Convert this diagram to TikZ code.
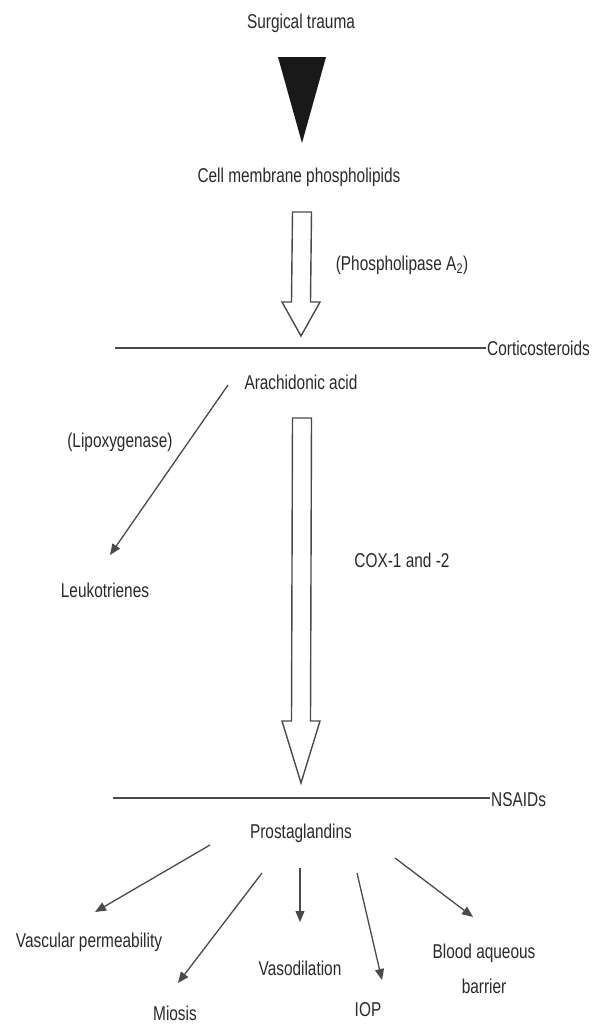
\documentclass[tikz,border=0pt]{standalone}
\usepackage{fontspec}
\setmainfont{Liberation Sans}[FakeStretch=0.77]
\usepackage{xcolor}
\usepackage{tikz}
\usetikzlibrary{arrows.meta, calc}
\definecolor{ink}{HTML}{2A2A2A}
\definecolor{rule}{HTML}{4A4A4A}
\tikzstyle{txt} = [text=ink, inner sep=1pt, font=\fontsize{20}{23}\selectfont]
\tikzstyle{bar} = [draw=rule, line width=1.6pt]
\tikzstyle{arrow} = [draw=rule, line width=1.3pt, -{Triangle[length=11pt, width=9pt]}]
\tikzstyle{hollow} = [draw=rule, line width=1.4pt, fill=white, line join=miter]
% block arrow: #1 top of shaft, #2 tip, #3 head length
\newcommand{\hollowarrow}[3]{%
  \draw[hollow] ($(#1)+(-9.5,0)$) -- ($(#2)+(-9.5,-#3)$) -- ($(#2)+(-19,-#3)$) -- (#2)
    -- ($(#2)+(19,-#3)$) -- ($(#2)+(9.5,-#3)$) -- ($(#1)+(9.5,0)$) -- cycle;}

\begin{document}
\begin{tikzpicture}[x=1pt, y=-1pt]
\useasboundingbox[fill=white] (0,0) rectangle (603,1029);

% top part
\node (trauma) [txt] at (301,23) {Surgical trauma};
\fill[black!90] (278,57) -- (326,57) -- (302,143) -- cycle;
\node (cell) [txt] at (299,177) {Cell membrane phospholipids};
\coordinate (shaft1) at (302,212);
\coordinate (tip1) at (301,336);
\hollowarrow{shaft1}{tip1}{34}
\node (phos) [txt] at (402,265) {(Phospholipase A\textsubscript{2})};

% corticosteroids
\coordinate (cortL) at (115,348);
\node (cort) [txt, anchor=west] at (486,348) {Corticosteroids};
\draw[bar] (cortL) -- (cort.west);

\node (arach) [txt] at (301,382) {Arachidonic acid};
\node (lipox) [txt] at (120,442) {(Lipoxygenase)};
\node (leuko) [txt] at (105,590) {Leukotrienes};
\coordinate (lipoxS) at (228,385);
\coordinate (lipoxE) at (110,555);
\draw[arrow] (lipoxS) -- (lipoxE);

\coordinate (shaft2) at (302,418);
\coordinate (tip2) at (301,783);
\hollowarrow{shaft2}{tip2}{62}
\node (cox) [txt] at (402,560) {COX-1 and -2};

% NSAIDs
\coordinate (nsaidL) at (113,798);
\node (nsaid) [txt, anchor=west] at (490,800) {NSAIDs};
\draw[bar] (nsaidL) -- (nsaid.west |- nsaidL);

\node (prost) [txt] at (301,833) {Prostaglandins};

% effects
\node (vasc) [txt] at (89,942) {Vascular permeability};
\node (miosis) [txt] at (175,1013) {Miosis};
\node (vasod) [txt] at (300,968) {Vasodilation};
\node (iop) [txt] at (368,1010) {IOP};
\node (blood) [txt, align=center, font=\fontsize{20}{35}\selectfont] at (484,969) {Blood aqueous\\barrier};

\coordinate (p1s) at (210,845); \coordinate (p1e) at (95,912);
\coordinate (p2s) at (262,873); \coordinate (p2e) at (178,983);
\coordinate (p3s) at (300,868); \coordinate (p3e) at (300,922);
\coordinate (p4s) at (357,873); \coordinate (p4e) at (382,980);
\coordinate (p5s) at (395,858); \coordinate (p5e) at (473,917);
\draw[arrow] (p1s) -- (p1e);
\draw[arrow] (p2s) -- (p2e);
\draw[arrow] (p3s) -- (p3e);
\draw[arrow] (p4s) -- (p4e);
\draw[arrow] (p5s) -- (p5e);
\end{tikzpicture}
\end{document}
